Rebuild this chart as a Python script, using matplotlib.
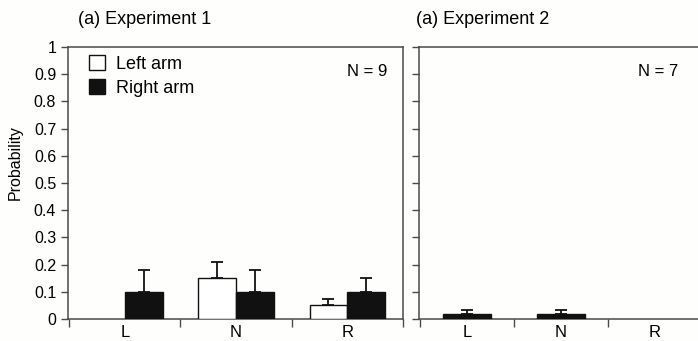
import matplotlib
matplotlib.use("Agg")
import matplotlib.pyplot as plt
import numpy as np
from matplotlib.patches import Patch

categories = ["L", "N", "R"]
exp1_left = [0.0, 0.15, 0.05]
exp1_left_err = [0.0, 0.06, 0.022]
exp1_right = [0.10, 0.10, 0.10]
exp1_right_err = [0.08, 0.08, 0.052]
exp2_values = [0.018, 0.018, 0.0]
exp2_err = [0.015, 0.015, 0.0]
yticks = [0, 0.1, 0.2, 0.3, 0.4, 0.5, 0.6, 0.7, 0.8, 0.9, 1]
ytick_labels = ["0", "0.1", "0.2", "0.3", "0.4", "0.5", "0.6", "0.7", "0.8", "0.9", "1"]

plt.rcParams['font.family'] = ['Liberation Sans', 'DejaVu Sans']
bg = '#fefefc'
spine_c = '#4a4a4a'
fig = plt.figure(figsize=(6.98, 3.41), dpi=100, facecolor=bg)
W, H = 698, 341

def ax_rect(x0, x1, ytop, ybot):
    return [x0 / W, 1 - ybot / H, (x1 - x0) / W, (ybot - ytop) / H]

ax1 = fig.add_axes(ax_rect(68, 403, 47, 319))
ax2 = fig.add_axes(ax_rect(419, 702, 47, 319))

x = np.arange(len(categories)) + 0.5
bw = 0.34
ekw = dict(ecolor='#111111', elinewidth=1.3, capsize=4.5, capthick=1.3)

def draw(ax, xpos, vals, errs, width, fc):
    vals = np.asarray(vals)
    errs = np.asarray(errs)
    m = vals > 0
    ax.bar(xpos[m], vals[m], width, color=fc, edgecolor='#111111', linewidth=1.0,
           yerr=[np.zeros(m.sum()), errs[m]], error_kw=ekw, zorder=3)

draw(ax1, x - bw / 2, exp1_left, exp1_left_err, bw, 'white')
draw(ax1, x + bw / 2, exp1_right, exp1_right_err, bw, '#111111')
draw(ax2, x, exp2_values, exp2_err, 0.52, '#111111')

for ax in (ax1, ax2):
    ax.set_facecolor(bg)
    ax.set_ylim(0, 1)
    ax.set_yticks(yticks)
    ax.set_xticks(x)
    ax.set_xticklabels(categories, fontsize=12)
    ax.set_xticks([0, 1, 2, 3], minor=True)
    ax.tick_params(axis='x', which='major', length=0, pad=4)
    ax.tick_params(axis='x', which='minor', length=6, width=1, color=spine_c, direction='out')
    ax.tick_params(axis='y', length=5, width=1, color=spine_c, direction='out')
    for s in ax.spines.values():
        s.set_color(spine_c)
        s.set_linewidth(1.1)

ax1.set_xlim(-0.01, 3.0)
ax2.set_xlim(-0.01, 3.0)
ax1.set_yticklabels(ytick_labels, fontsize=11.5)
ax2.set_yticklabels([])

ax1.set_ylabel("Probability", fontsize=11.5)
ax1.yaxis.set_label_coords(-0.135, 0.574)

fig.text(78 / W, 1 - 20 / H, "(a) Experiment 1", fontsize=13, va='center', ha='left')
fig.text(416 / W, 1 - 20 / H, "(a) Experiment 2", fontsize=13, va='center', ha='left')

ax1.text(387 / W, 1 - 71 / H, "N = 9", fontsize=12, ha='right', va='center', transform=fig.transFigure)
ax2.text(678 / W, 1 - 71 / H, "N = 7", fontsize=12, ha='right', va='center', transform=fig.transFigure)

handles = [Patch(facecolor='white', edgecolor='#111111', linewidth=1.0, label='Left arm'),
           Patch(facecolor='#111111', edgecolor='#111111', linewidth=1.0, label='Right arm')]
ax1.legend(handles=handles, loc='upper left', bbox_to_anchor=(0.03, 1.01), frameon=False,
           fontsize=13, handlelength=0.9, handleheight=0.9, handletextpad=0.6,
           labelspacing=0.35, borderaxespad=0.2)

fig.savefig("out.png", dpi=100, facecolor=bg)
